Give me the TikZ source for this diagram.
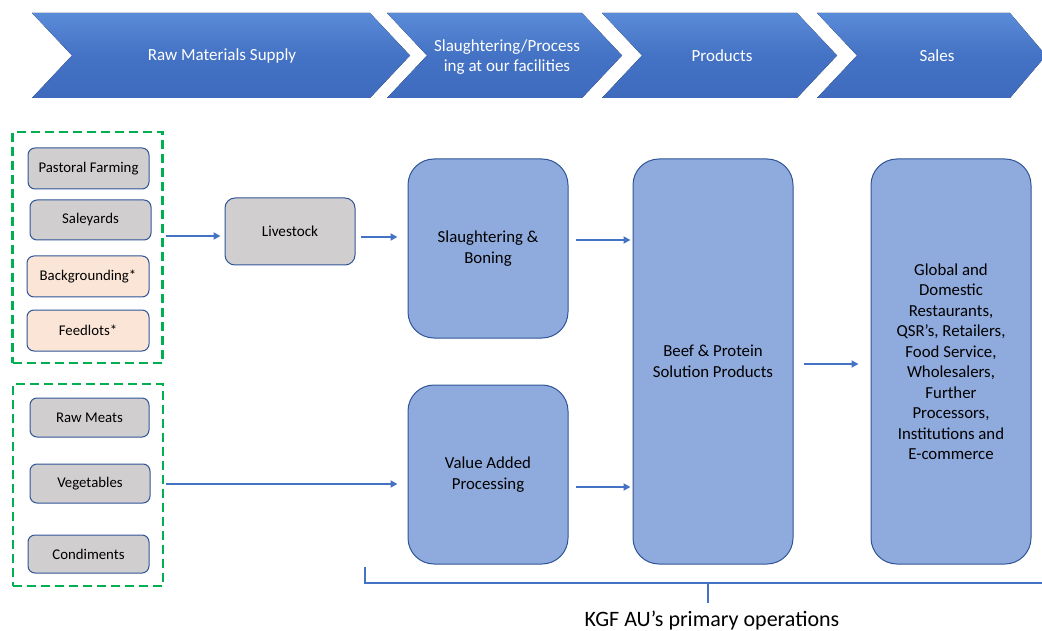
\documentclass[tikz,border=0pt]{standalone}
\usepackage{fontspec}
\setmainfont{Carlito}
\usetikzlibrary{arrows.meta,positioning,fit}
\definecolor{chev}{HTML}{4472C4}
\definecolor{chevtop}{HTML}{5A8BD8}
\definecolor{chevbot}{HTML}{3E6BBE}
\definecolor{bord}{HTML}{2F5597}
\definecolor{graybox}{HTML}{D0CECE}
\definecolor{peach}{HTML}{FBE5D6}
\definecolor{bigbox}{HTML}{8FAADC}
\definecolor{grn}{HTML}{00B050}
\definecolor{arrc}{HTML}{4472C4}
\tikzset{
  chevshape/.style={top color=chevtop,bottom color=chevbot,middle color=chev,draw=none},
  chevtext/.style={text=white,font=\fontsize{17}{19.5}\selectfont,align=center},
  smallbox/.style={draw=bord,line width=1pt,rounded corners=7pt,fill=graybox,
     font=\fontsize{14.8}{17}\selectfont,inner sep=0pt},
  peachbox/.style={smallbox,fill=peach},
  midbox/.style={draw=bord,line width=1pt,rounded corners=10pt,fill=graybox,
     font=\fontsize{15.2}{18}\selectfont,inner sep=0pt},
  bluebox/.style={draw=bord,line width=1pt,rounded corners=26pt,fill=bigbox,
     font=\fontsize{16.8}{20.5}\selectfont,align=center,inner sep=0pt},
  grp/.style={draw=grn,line width=2.6pt,dash pattern=on 9pt off 5pt,inner sep=0pt},
  arr/.style={draw=arrc,line width=2pt,-{Triangle[length=7pt,width=7pt]}},
  brk/.style={draw=arrc,line width=2pt},
}
\begin{document}
\begin{tikzpicture}[x=1pt,y=-1pt]
\useasboundingbox (0,0) rectangle (1042,631);
% chevrons
\fill[chevshape] (32,13) -- (370,13) -- (410,55.5) -- (370,98) -- (32,98) -- (72,55.5) -- cycle;
\fill[chevshape] (387,13) -- (582,13) -- (622,55.5) -- (582,98) -- (387,98) -- (427,55.5) -- cycle;
\fill[chevshape] (602,13) -- (797,13) -- (837,55.5) -- (797,98) -- (602,98) -- (642,55.5) -- cycle;
\fill[chevshape] (817,13) -- (1010,13) -- (1046,55.5) -- (1010,98) -- (817,98) -- (857,55.5) -- cycle;
\node[chevtext] (c1) at (222,56) {Raw Materials Supply};
\node[chevtext] (c2) at (507,57) {Slaughtering/Process\\ing at our facilities};
\node[chevtext] (c3) at (722,56) {Products};
\node[chevtext] (c4) at (937,56) {Sales};
% left groups
\node[smallbox,minimum width=121pt,minimum height=41pt] (past) at (88.5,168.5) {Pastoral Farming};
\node[smallbox,minimum width=121pt,minimum height=40pt] (sale) at (90.5,220) {Saleyards};
\node[peachbox,minimum width=122pt,minimum height=41pt] (back) at (88,276.5) {Backgrounding*};
\node[peachbox,minimum width=122pt,minimum height=41pt] (feed) at (88,330.5) {Feedlots*};
\node[grp,minimum width=150pt,minimum height=231pt] (g1) at (87.5,247.5) {};
\node[smallbox,minimum width=119pt,minimum height=39pt] (raw) at (89.5,417.5) {Raw Meats};
\node[smallbox,minimum width=120pt,minimum height=39pt] (veg) at (90,483.5) {Vegetables};
\node[smallbox,minimum width=121pt,minimum height=38pt] (cond) at (88.5,554) {Condiments};
\node[grp,minimum width=150pt,minimum height=202pt] (g2) at (88,485) {};
% middle
\node[midbox,minimum width=130pt,minimum height=67pt] (liv) at (290,231.5) {Livestock};
\node[bluebox,minimum width=160pt,minimum height=179pt] (sla) at (488,248.5) {Slaughtering \&\\Boning};
\node[bluebox,minimum width=160pt,minimum height=179pt] (val) at (488,474.5) {Value Added\\Processing};
\node[bluebox,minimum width=160pt,minimum height=405pt] (beef) at (713,361.5) {Beef \& Protein\\Solution Products};
\node[bluebox,minimum width=160pt,minimum height=405pt] (glob) at (951,361.5) {Global and\\Domestic\\Restaurants,\\QSR’s, Retailers,\\Food Service,\\Wholesalers,\\Further\\Processors,\\Institutions and\\E-commerce};
% arrows
\draw[arr] ([xshift=2pt]g1.east |- 0,236) -- ([xshift=-4pt]liv.west |- 0,236);
\draw[arr] ([xshift=5pt]liv.east |- 0,237) -- ([xshift=-10pt]sla.west |- 0,237);
\draw[arr] ([xshift=2pt]g2.east |- 0,484) -- ([xshift=-10pt]val.west |- 0,484);
\draw[arr] ([xshift=7pt]sla.east |- 0,240) -- ([xshift=-2pt]beef.west |- 0,240);
\draw[arr] ([xshift=7pt]val.east |- 0,487) -- ([xshift=-2pt]beef.west |- 0,487);
\draw[arr] ([xshift=10pt]beef.east |- 0,364) -- ([xshift=-12pt]glob.west |- 0,364);
% bracket
\coordinate (bl) at (365,567);
\coordinate (br) at (1045,583);
\coordinate (tk) at (708,603);
\draw[brk] (bl) -- (bl |- br) -- (br);
\draw[brk] (tk |- br) -- (tk);
\node[font=\fontsize{22}{24}\selectfont] (lab) at (712,621) {KGF AU’s primary operations};
\end{tikzpicture}
\end{document}
